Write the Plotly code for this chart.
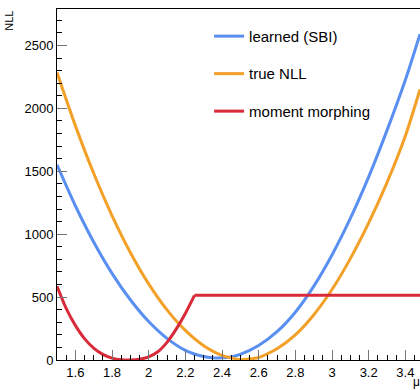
import plotly.graph_objects as go

# --- data ---
mu_sbi = [1.50, 1.60, 1.70, 1.80, 1.90, 2.00, 2.10, 2.20, 2.30, 2.35, 2.40, 2.45, 2.50,
          2.60, 2.70, 2.80, 2.90, 3.00, 3.10, 3.20, 3.30, 3.40, 3.48]
nll_sbi = [1551, 1226, 938, 689, 479, 306, 172, 77, 28, 18, 17, 25, 45,
           115, 225, 380, 585, 835, 1125, 1455, 1825, 2225, 2590]

mu_true = [1.50, 1.60, 1.70, 1.80, 1.90, 2.00, 2.10, 2.20, 2.30, 2.40, 2.50,
           2.60, 2.70, 2.80, 2.90, 3.00, 3.10, 3.20, 3.30, 3.40, 3.48]
nll_true = [2285, 1863, 1484, 1148, 855, 605, 398, 235, 114, 37, 3,
            20, 90, 200, 358, 560, 806, 1090, 1410, 1780, 2150]

mu_mm_curve = [1.50, 1.55, 1.60, 1.65, 1.70, 1.75, 1.80, 1.85, 1.90, 1.95, 2.00,
               2.05, 2.10, 2.15, 2.20, 2.25]
nll_mm_curve = [586, 410, 275, 170, 95, 45, 15, 2, 0, 6, 25,
                65, 140, 245, 370, 514]
mu_mm_flat = [2.25, 3.50]
nll_mm_flat = [514, 514]

labels = ["learned (SBI)", "true NLL", "moment morphing"]
colors = ["#5a8ff2", "#f3a028", "#d92a3a"]

fig = go.Figure()
fig.add_trace(go.Scatter(x=mu_sbi, y=nll_sbi, mode="lines", name=labels[0],
                         line=dict(color=colors[0], width=3, shape="spline", smoothing=0.6),
                         legendgroup="a"))
fig.add_trace(go.Scatter(x=mu_true, y=nll_true, mode="lines", name=labels[1],
                         line=dict(color=colors[1], width=3, shape="spline", smoothing=0.6),
                         legendgroup="b"))
fig.add_trace(go.Scatter(x=mu_mm_curve, y=nll_mm_curve, mode="lines", name=labels[2],
                         line=dict(color=colors[2], width=3, shape="spline", smoothing=0.6),
                         legendgroup="c"))
fig.add_trace(go.Scatter(x=mu_mm_flat, y=nll_mm_flat, mode="lines", name=labels[2],
                         line=dict(color=colors[2], width=3),
                         legendgroup="c", showlegend=False))

axis_font = dict(family="Liberation Sans, Arial, sans-serif", size=13, color="black")

fig.update_layout(
    width=420, height=390,
    margin=dict(l=57, r=0, t=9, b=30),
    paper_bgcolor="white", plot_bgcolor="white",
    font=axis_font,
    showlegend=True,
    legend=dict(x=0.419, y=0.969, xanchor="left", yanchor="top",
                bgcolor="rgba(0,0,0,0)", font=dict(size=15, family="Liberation Sans, Arial, sans-serif"),
                traceorder="grouped", tracegroupgap=15, itemwidth=30),
    xaxis=dict(range=[1.5, 3.48], showgrid=False, zeroline=False,
               showline=True, linecolor="black", linewidth=1, mirror=True,
               ticks="inside", ticklen=10, tickcolor="#777", dtick=0.2, tick0=0,
               minor=dict(ticks="inside", ticklen=5, dtick=0.05, tick0=0, tickcolor="black"),
               tickfont=axis_font),
    yaxis=dict(range=[0, 2790], showgrid=False, zeroline=False,
               showline=True, linecolor="black", linewidth=1, mirror=False,
               ticks="inside", ticklen=10, tickcolor="#777", dtick=500, tick0=0,
               minor=dict(ticks="inside", ticklen=5, dtick=100, tick0=0, tickcolor="black"),
               tickfont=axis_font),
)

fig.add_annotation(text="μ", xref="paper", yref="paper", x=0.99, y=-0.038,
                   xanchor="center", yanchor="top", showarrow=False,
                   font=dict(size=12, family="Liberation Sans, Arial, sans-serif"))
fig.add_annotation(text="NLL", xref="paper", yref="paper", x=-0.133, y=1.0,
                   xanchor="center", yanchor="top", textangle=-90, showarrow=False,
                   font=dict(size=11, family="Liberation Sans, Arial, sans-serif"))

fig.write_html("out.html")
